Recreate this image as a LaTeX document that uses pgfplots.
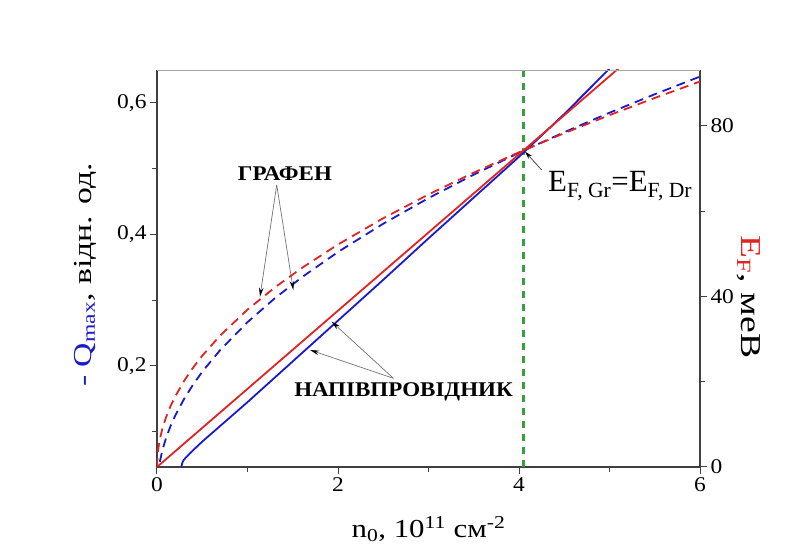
\documentclass[border=0pt]{standalone}
\usepackage{fontspec}
\setmainfont{Liberation Serif}
\newfontfamily\tickfont{Liberation Serif}[FakeStretch=1.12]
\newfontfamily\lblfont{Liberation Serif}[FakeStretch=1.19]
\newfontfamily\vlblfont{Liberation Serif}[FakeStretch=1.3]
\newfontfamily\wbfont{Liberation Serif}[FakeStretch=1.1]
\usepackage{pgfplots}
\pgfplotsset{compat=1.18}
\usetikzlibrary{arrows.meta}
\definecolor{qblue}{RGB}{25,25,205}
\definecolor{ered}{RGB}{225,35,35}
\definecolor{vgreen}{RGB}{55,160,60}
\pgfplotsset{
  common/.style={
    at={(0,0)}, anchor=south west,
    width=543bp, height=397bp, scale only axis,
    xmin=0, xmax=6,
    tick align=outside,
    major tick length=7bp, minor tick length=5bp,
    tick style={black!75, line width=1bp},
    axis line style={black!75, line width=1.3bp, -},
    ticklabel style={font=\tickfont\fontsize{21}{24}\selectfont},
    /pgf/number format/assume math mode=true,
    clip=true,
  },
  sharedash/.style={line width=1.8bp, dash pattern=on 9bp off 6bp},
  solidc/.style={line width=1.8bp},
}
\begin{document}
\begin{tikzpicture}[x=1bp,y=1bp]
\useasboundingbox (-157,-85) rectangle (631,467);
\fill[white] (-157,-85) rectangle (631,467);
% ---------- left axis: -Q_max (blue) ----------
\begin{axis}[common,
  ymin=0.0464, ymax=0.65,
  axis x line*=bottom, axis y line*=left,
  xtick={0,2,4,6}, minor xtick={1,3,5},
  ytick={0.2,0.4,0.6}, minor ytick={0.1,0.3,0.5},
  yticklabel style={/pgf/number format/.cd, fixed, fixed zerofill, precision=1, use comma},
  xticklabel style={/pgf/number format/.cd, fixed, precision=0},
]
% crossing line
\addplot[draw=vgreen, line width=2.1bp, dash pattern=on 7bp off 6bp] coordinates {(4.05,0.0464) (4.05,0.65)};
% semiconductor (solid)
\addplot[qblue, solidc] coordinates {
 (0.262,0.040) (0.270,0.047) (0.280,0.053) (0.295,0.057) (0.32,0.061)
 (0.35,0.065) (0.40,0.072) (0.5,0.085) (0.6,0.097) (0.8,0.121) (1.0,0.145)
 (1.5,0.207) (2.0,0.269) (2.5,0.331) (3.0,0.394) (3.5,0.456) (4.0,0.518)
 (4.5,0.583) (5.0,0.652) (5.2,0.680)};
% graphene (dashed)
\addplot[qblue, sharedash] coordinates {
 (0,0.009) (0.01,0.0348) (0.03,0.0536) (0.06,0.0721) (0.1,0.0905)
 (0.15,0.1088) (0.2,0.1242) (0.3,0.1501) (0.4,0.1719) (0.5,0.1912)
 (0.7,0.2245) (1,0.2666) (1.3,0.3027) (1.6,0.3348) (2,0.3733) (2.5,0.4163)
 (3,0.4552) (3.5,0.4909) (4,0.5242) (4.5,0.5554) (5,0.5850) (5.5,0.6131) (6,0.6400)};
% annotations
\node[font=\wbfont\bfseries\fontsize{21}{24}\selectfont] at (axis cs:1.414,0.4928) {ГРАФЕН};
\draw[black!55, line width=0.7bp, -{Stealth[length=9bp,width=4.5bp,black]}] (axis cs:1.323,0.4753) -- (axis cs:1.138,0.3054);
\draw[black!55, line width=0.7bp, -{Stealth[length=9bp,width=4.5bp,black]}] (axis cs:1.323,0.4753) -- (axis cs:1.506,0.3156);
\node[font=\wbfont\bfseries\fontsize{21}{24}\selectfont] at (axis cs:2.724,0.1605) {НАПІВПРОВІДНИК};
\draw[black!55, line width=0.7bp, -{Stealth[length=9bp,width=4.5bp,black]}] (axis cs:2.611,0.1813) -- (axis cs:1.930,0.2674);
\draw[black!55, line width=0.7bp, -{Stealth[length=9bp,width=4.5bp,black]}] (axis cs:2.611,0.1813) -- (axis cs:1.691,0.2243);
\node[anchor=base west, inner sep=0pt, font=\fontsize{31}{34}\selectfont] at (axis cs:4.32,0.4646) {E\textsubscript{F, Gr}=E\textsubscript{F, Dr}};
\draw[black!70, line width=0.8bp, -{Stealth[length=8bp,width=4.5bp,black]}] (axis cs:4.25,0.498) -- (axis cs:4.066,0.526);
\end{axis}
% ---------- right axis: E_F (red) ----------
\begin{axis}[common,
  ymin=0, ymax=93.1,
  axis x line=none, axis y line*=right,
  ytick={0,40,80}, minor ytick={20,60},
]
\addplot[ered, solidc] coordinates {
 (0,0) (1,18.33) (2,36.66) (3,54.99) (4,73.32) (5,91.65) (5.2,95.3)};
\addplot[ered, sharedash] coordinates {
 (0,0) (0.01,3.69) (0.03,6.39) (0.06,9.04) (0.1,11.67) (0.15,14.29)
 (0.2,16.50) (0.3,20.21) (0.4,23.34) (0.5,26.09) (0.7,30.87) (1,36.9)
 (1.3,42.07) (1.6,46.67) (2,52.18) (2.5,58.34) (3,63.91) (3.5,69.03)
 (4,73.8) (4.5,78.28) (5,82.51) (5.5,86.54) (6,90.39)};
\end{axis}
% top frame line
\draw[black!35, line width=0.8bp] (0,397) -- (543,397);
% axis labels
\node[rotate=90, font=\vlblfont\fontsize{26}{30}\selectfont] at (-72,192) {\textcolor{qblue}{- Q\textsubscript{max}}, відн. од.};
\node[rotate=-90, font=\vlblfont\fontsize{29}{32}\selectfont] at (592,170) {\textcolor{ered}{E\textsubscript{F}}, меВ};
\node[font=\lblfont\fontsize{26}{30}\selectfont] at (271.5,-62) {n\textsubscript{0}, 10\textsuperscript{11} см\textsuperscript{-2}};
\end{tikzpicture}
\end{document}
